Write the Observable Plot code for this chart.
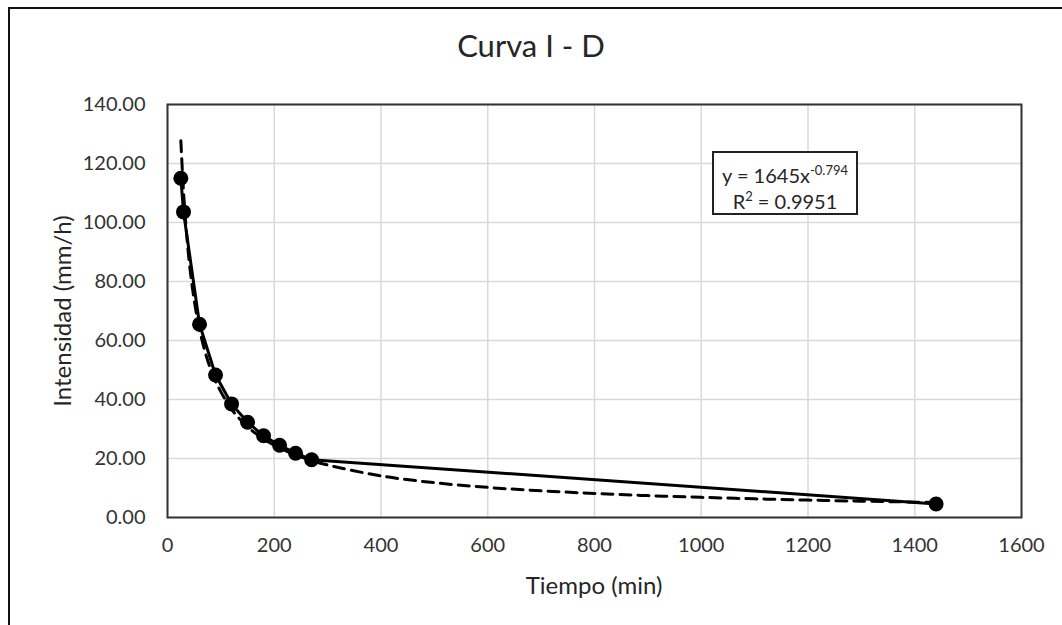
<!DOCTYPE html>
<html>
<head>
<meta charset="utf-8">
<script src="https://cdn.jsdelivr.net/npm/d3@7"></script>
<script src="https://cdn.jsdelivr.net/npm/@observablehq/plot@0.6"></script>
<style>
  html, body { margin: 0; padding: 0; background: #fff; }
  body { width: 1062px; height: 625px; overflow: hidden; font-family: Lato, "Open Sans", sans-serif; }
  #wrap { position: relative; width: 1062px; height: 625px; }
  #border { position: absolute; left: 8px; top: 7px; width: 1100px; height: 700px; border-left: 2px solid #111; border-top: 2px solid #111; box-sizing: border-box; }
  .lbl { position: absolute; transform: translate(-50%, -50%); white-space: nowrap; line-height: 1; color: #262626; }
  #chart { position: absolute; left: 0; top: 0; }
  #eq { position: absolute; left: 712px; top: 151px; width: 146px; height: 64px; box-sizing: border-box; border: 2px solid #222; background: #fff; font-size: 20px; color: #262626; text-align: center; line-height: 1; }
  #eq div { position: absolute; left: 0; right: 0; }
  sup { font-size: 13px; vertical-align: 0; position: relative; top: -8px; }
</style>
</head>
<body>
<div id="wrap">
  <div id="border"></div>
  <div id="chart"></div>
  <div class="lbl" id="title" style="left:531px; top:45px; font-size:31px;">Curva I - D</div>
  <div class="lbl" style="left:594px; top:585px; font-size:24px;">Tiempo (min)</div>
  <div class="lbl" style="left:62px; top:311px; font-size:24px; transform: translate(-50%, -50%) rotate(-90deg);">Intensidad (mm/h)</div>
  <div id="eq">
    <div style="top:12px;">y = 1645x<sup>-0.794</sup></div>
    <div style="top:38px;">R<sup>2</sup> = 0.9951</div>
  </div>
</div>
<script>
// Observed data (duration in minutes, intensity in mm/h)
const durations   = [25, 30, 60, 90, 120, 150, 180, 210, 240, 270, 1440];
const intensities = [115.0, 103.6, 65.5, 48.3, 38.5, 32.3, 27.7, 24.5, 21.8, 19.6, 4.6];

// Power trendline (y = 1645x^-0.794)
const trendX = [25, 30, 35, 40, 45, 50, 60, 75, 90, 120, 150, 180, 210, 240, 270, 300, 400, 500, 600, 700, 800, 900, 1000, 1100, 1200, 1300, 1440];
const trendY = [127.7, 110.5, 97.8, 87.9, 80.1, 73.7, 63.7, 53.4, 46.2, 36.7, 30.8, 26.6, 23.6, 21.2, 19.3, 17.8, 14.1, 11.8, 10.2, 9.05, 8.15, 7.42, 6.83, 6.33, 5.91, 5.54, 5.11];

// Axis ticks
const xTicks = [0, 200, 400, 600, 800, 1000, 1200, 1400, 1600];
const yTicks = [0, 20, 40, 60, 80, 100, 120, 140];

const plot = Plot.plot({
  width: 1062,
  height: 625,
  marginLeft: 167,
  marginRight: 41,
  marginTop: 104,
  marginBottom: 108,
  style: { fontFamily: "Lato, 'Open Sans', sans-serif", fontSize: "20px", color: "#333", background: "transparent" },
  x: { domain: [0, 1600] },
  y: { domain: [0, 140] },
  marks: [
    Plot.gridX(xTicks, { stroke: "#d9d9d9", strokeOpacity: 1, strokeWidth: 1.5 }),
    Plot.gridY(yTicks, { stroke: "#d9d9d9", strokeOpacity: 1, strokeWidth: 1.5 }),
    Plot.frame({ stroke: "#333", strokeWidth: 2 }),
    Plot.axisX(xTicks, { tickSize: 0, tickPadding: 20, label: null, tickFormat: d => String(d) }),
    Plot.axisY(yTicks, { tickSize: 0, tickPadding: 22, label: null, tickFormat: d3.format(".2f") }),
    Plot.line(durations, { x: durations, y: intensities, stroke: "#000", strokeWidth: 3 }),
    Plot.line(trendX, { x: trendX, y: trendY, stroke: "#000", strokeWidth: 3, strokeDasharray: "11,7", curve: "catmull-rom" }),
    Plot.dot(durations, { x: durations, y: intensities, r: 7.5, fill: "#000", stroke: "none" })
  ]
});
document.getElementById("chart").appendChild(plot);
</script>
</body>
</html>
